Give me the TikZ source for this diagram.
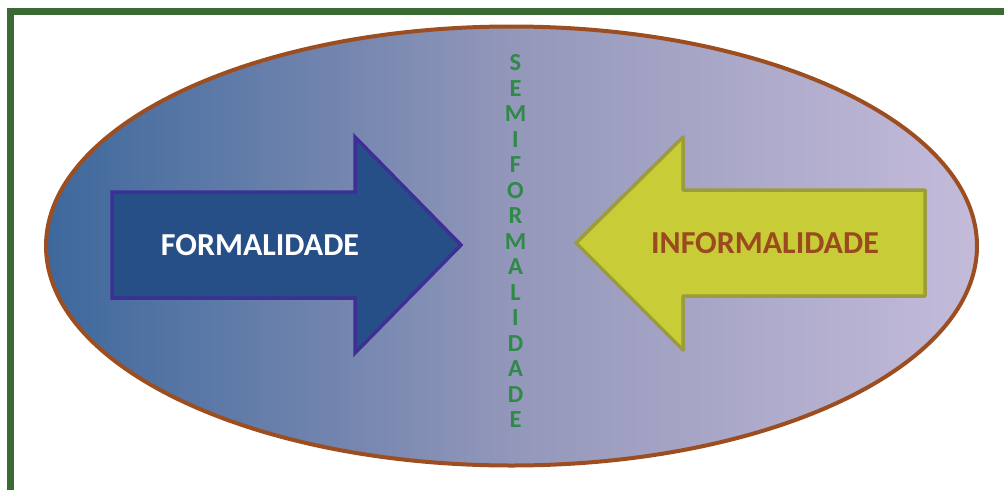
\documentclass[tikz,border=0pt]{standalone}
\usepackage{fontspec}
\setmainfont{Carlito}
\definecolor{frameG}{HTML}{3B6A34}
\definecolor{ovalB}{HTML}{9C4E20}
\definecolor{cL}{HTML}{3D689C}
\definecolor{cM}{HTML}{9397BA}
\definecolor{cR}{HTML}{C4BBDA}
\definecolor{arBfill}{HTML}{264F87}
\definecolor{arBline}{HTML}{3E2F96}
\definecolor{arYfill}{HTML}{C8CC37}
\definecolor{arYline}{HTML}{9B9C3B}
\definecolor{txtBrown}{HTML}{9A4A1E}
\definecolor{txtGreen}{HTML}{2F8A48}
\pgfdeclarehorizontalshading{ovalshade}{100bp}{color(0bp)=(cL); color(25bp)=(cL); color(50bp)=(cM); color(75bp)=(cR); color(100bp)=(cR)}
\begin{document}
\begin{tikzpicture}[x=1pt,y=-1pt,
  arrowshape/.style={line width=3.5pt,line join=round},
  bigtext/.style={font=\fontsize{32}{32}\selectfont\bfseries,inner sep=0pt},
  vletter/.style={font=\fontsize{24.5}{24.5}\selectfont\bfseries,text=txtGreen,inner sep=0pt}]
\useasboundingbox (0,0) rectangle (1004,490);
% frame
\draw[frameG,line width=7pt] (10.5,490) -- (10.5,11.5) -- (1004,11.5);
% oval
\path[shading=ovalshade] (511.5,246) ellipse [x radius=465.5, y radius=219.5];
\draw[ovalB,line width=4pt] (511.5,246) ellipse [x radius=465.5, y radius=219.5];
% left arrow
\draw[arrowshape,draw=arBline,fill=arBfill,line join=miter]
  (112,192) -- (355,192) -- (355,137) -- (461,245) -- (355,353) -- (355,298) -- (112,298) -- cycle;
\node[bigtext,text=white] (formal) at (260,245) {FORMALIDADE};
% right arrow
\draw[arrowshape,draw=arYline,fill=arYfill]
  (576,243) -- (683,137) -- (683,190) -- (925,190) -- (925,296) -- (683,296) -- (683,350) -- cycle;
\node[bigtext,text=txtBrown] (informal) at (765,243) {INFORMALIDADE};
% vertical text
\foreach \ch [count=\i from 0] in {S,E,M,I,F,O,R,M,A,L,I,D,A,D,E}{
  \node[vletter] (v\i) at (515.5,{63+25.5*\i}) {\ch};
}
\end{tikzpicture}
\end{document}
